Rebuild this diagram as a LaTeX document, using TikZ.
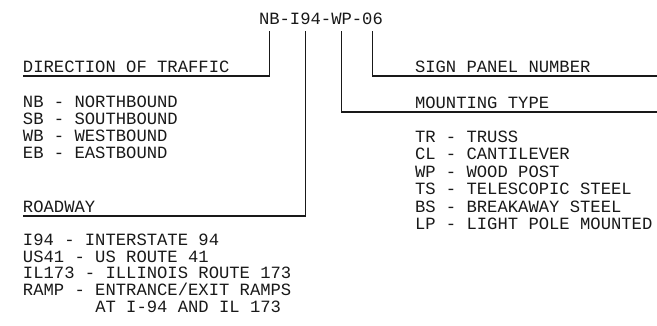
\documentclass[tikz,border=0pt]{standalone}
\usepackage{fontspec}
\newfontfamily\cadfont{Liberation Mono}
\begin{document}
\begin{tikzpicture}[x=1pt,y=-1pt,
  every node/.style={inner sep=0pt, outer sep=0pt, anchor=base west,
    font=\cadfont\fontsize{17.2pt}{20pt}\selectfont, text=black!90},
  lead/.style={line width=1.2pt, black!90}]
\useasboundingbox (0,0) rectangle (657,325);
% code
\node (c1) at (259,24) {NB};
\node (s1) at (c1.base east) {-};
\node (c2) at (s1.base east) {I94};
\node (s2) at (c2.base east) {-};
\node (c3) at (s2.base east) {WP};
\node (s3) at (c3.base east) {-};
\node (c4) at (s3.base east) {06};
% headings
\node (dir) at (23,72.5) {DIRECTION OF TRAFFIC};
\node (road) at (23,212.5) {ROADWAY};
\node (sign) at (415,72.5) {SIGN PANEL NUMBER};
\node (mount) at (415,108.5) {MOUNTING TYPE};
\coordinate (signEnd) at (657,76);
\coordinate (mountEnd) at (657,112);
% leaders
\draw[lead] ([yshift=-7pt]c1.base) |- ([yshift=-3.5pt]dir.base west);
\draw[lead] ([yshift=-7pt]c2.base) |- ([yshift=-3.5pt]road.base west);
\draw[lead] ([yshift=-7pt]c3.base) |- (mountEnd);
\draw[lead] ([yshift=-7pt]c4.base) |- (signEnd);
% direction list
\node (d1) at (23,107) {NB - NORTHBOUND};
\node (d2) at (23,124) {SB - SOUTHBOUND};
\node (d3) at (23,141) {WB - WESTBOUND};
\node (d4) at (23,158) {EB - EASTBOUND};
% roadway list
\node (r1) at (23,245) {I94 - INTERSTATE 94};
\node (r2) at (23,262) {US41 - US ROUTE 41};
\node (r3) at (23,278.5) {IL173 - ILLINOIS ROUTE 173};
\node (r4) at (23,295) {RAMP - ENTRANCE/EXIT RAMPS};
\node (r5) at (23,312) {\phantom{RAMP - }AT I-94 AND IL 173};
% mounting list
\node (m1) at (415,142) {TR - TRUSS};
\node (m2) at (415,159.5) {CL - CANTILEVER};
\node (m3) at (415,177) {WP - WOOD POST};
\node (m4) at (415,194.5) {TS - TELESCOPIC STEEL};
\node (m5) at (415,212) {BS - BREAKAWAY STEEL};
\node (m6) at (415,229.5) {LP - LIGHT POLE MOUNTED};
\end{tikzpicture}
\end{document}
